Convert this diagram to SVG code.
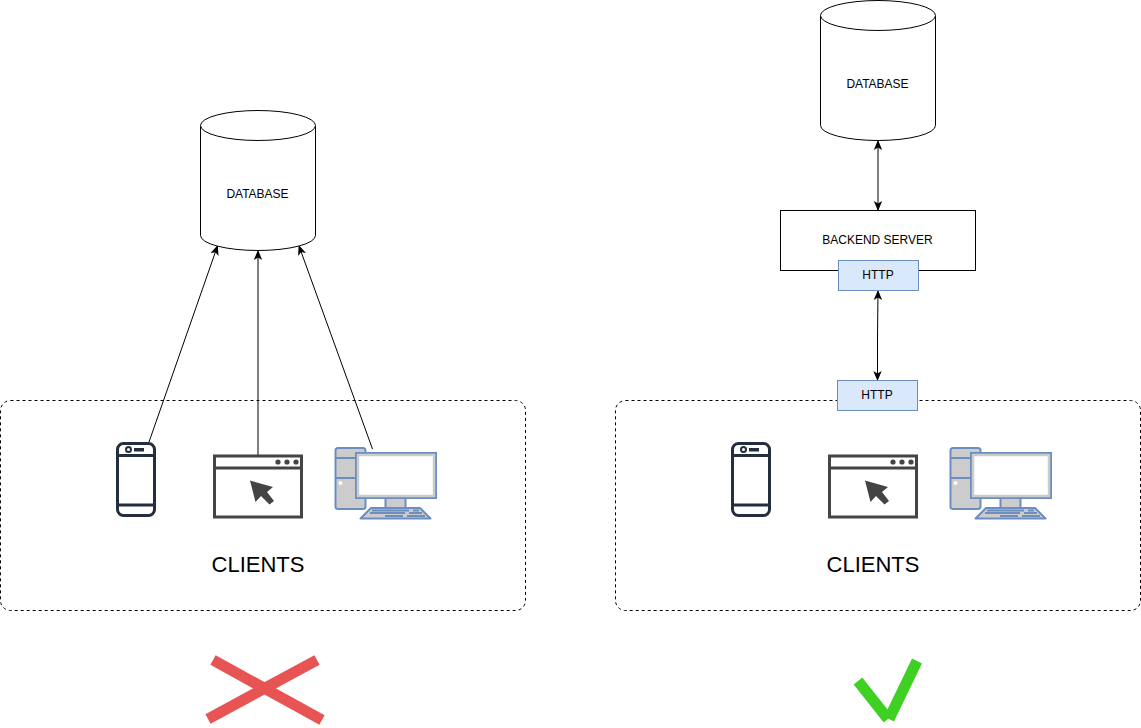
<svg xmlns="http://www.w3.org/2000/svg" width="1141" height="728" viewBox="0 0 1141 728">
<style>
text{font-family:"Liberation Sans",Arial,sans-serif;fill:#000;text-anchor:middle}
.s{font-size:12px}
.l{font-size:22px}
.box{fill:#fff;stroke:#000;stroke-width:1}
.http{fill:#dae8fc;stroke:#6c8ebf;stroke-width:1}
.group{fill:#fff;stroke:#000;stroke-width:1;stroke-dasharray:3 3}
.conn{fill:none;stroke:#000;stroke-width:1;marker-end:url(#a)}
.conn2{fill:none;stroke:#000;stroke-width:1;marker-start:url(#as);marker-end:url(#a)}
.pc{stroke:#6c8ebf;stroke-width:2;fill:#ccc;stroke-linejoin:round}
</style>
<defs>
<marker id="a" viewBox="0 0 10 10" refX="9" refY="5" markerWidth="10" markerHeight="10" orient="auto" markerUnits="userSpaceOnUse"><path d="M0 0.8L10 5L0 9.2L2.500 5Z" fill="#000"/></marker>
<marker id="as" viewBox="0 0 10 10" refX="1" refY="5" markerWidth="10" markerHeight="10" orient="auto" markerUnits="userSpaceOnUse"><path d="M10 0.8L0 5L10 9.2L7.500 5Z" fill="#000"/></marker>
<g id="phoneIcon">
<rect x="117.500" y="443.500" width="37" height="72" rx="6" fill="#fff" stroke="#232f3e" stroke-width="3"/>
<path d="M117.500 455.500H154.500M117.500 505H154.500" stroke="#232f3e" stroke-width="3" fill="none"/>
<circle cx="128.500" cy="449.500" r="2.500" fill="#fff" stroke="#232f3e" stroke-width="2"/>
<rect x="134" y="448" width="10" height="3.500" fill="#232f3e"/>
</g>
<g id="browserIcon">
<rect x="214.500" y="456" width="87" height="61" fill="#fff" stroke="#444" stroke-width="3"/>
<path d="M214.500 468H301.500" stroke="#444" stroke-width="3" fill="none"/>
<circle cx="278" cy="462" r="2.600" fill="#444"/><circle cx="287" cy="462" r="2.600" fill="#444"/><circle cx="296" cy="462" r="2.600" fill="#444"/>
<path d="M250 480.500L273 487L267 492L274 501L269.500 504.500L261 496L255.500 502Z" fill="#444"/>
</g>
<g id="pcIcon">
<rect x="335.500" y="448" width="30" height="61" rx="2.500" class="pc"/>
<path d="M335.500 458H365.500M335.500 478H365.500" class="pc" fill="none"/>
<circle cx="340.500" cy="483" r="2" fill="#fff"/>
<rect x="385.500" y="498" width="20" height="10" class="pc"/>
<rect x="356" y="453" width="80" height="45" fill="#fff" stroke="#6c8ebf" stroke-width="2"/>
<rect x="358" y="455" width="76" height="41" fill="#fff" stroke="#ccc" stroke-width="2.500"/>
<path d="M371 508H420L430.500 518.500H360.500Z" class="pc"/>
<path d="M372 510.500H409M413 510.500H419M370 513H405M409 513H422M385 516H403M407 516H425" stroke="#6c8ebf" stroke-width="1.800" fill="none"/>
</g>
</defs>
<rect width="1141" height="728" fill="#fff"/>
<g id="left-clients">
<rect class="group" x="0.500" y="400.500" width="525" height="210" rx="10"/>
<text class="l" x="258" y="572">CLIENTS</text>
</g>
<g id="right-clients">
<rect class="group" x="615.500" y="400.500" width="525" height="210" rx="10"/>
<text class="l" x="873" y="572">CLIENTS</text>
</g>
<g id="connectors">
<path class="conn" d="M149 442L217.500 246"/>
<path class="conn" d="M258 455V251"/>
<path class="conn" d="M372.500 449L299 246"/>
<path class="conn2" d="M878 141V210"/>
<path class="conn2" d="M878 291L877.500 336V380"/>
</g>
<g id="left-phone"><use href="#phoneIcon"/></g>
<g id="left-browser"><use href="#browserIcon"/></g>
<g id="left-pc"><use href="#pcIcon"/></g>
<g id="right-phone"><use href="#phoneIcon" x="615"/></g>
<g id="right-browser"><use href="#browserIcon" x="615"/></g>
<g id="right-pc"><use href="#pcIcon" x="615"/></g>
<g id="left-database">
<path class="box" d="M200.500 125.500A57.500 15 0 0 1 315.500 125.500V235.500A57.500 15 0 0 1 200.500 235.500Z"/>
<path class="box" fill="none" d="M200.500 125.500A57.500 15 0 0 0 315.500 125.500"/>
<text class="s" x="257.500" y="198">DATABASE</text>
</g>
<g id="right-database">
<path class="box" d="M820.500 15.500A57.500 15 0 0 1 935.500 15.500V125.500A57.500 15 0 0 1 820.500 125.500Z"/>
<path class="box" fill="none" d="M820.500 15.500A57.500 15 0 0 0 935.500 15.500"/>
<text class="s" x="877.500" y="88">DATABASE</text>
</g>
<g id="backend-server">
<rect class="box" x="780.500" y="210.500" width="195" height="60"/>
<text class="s" x="877.500" y="244">BACKEND SERVER</text>
</g>
<g id="http-server">
<rect class="http" x="838.500" y="260.500" width="80" height="30"/>
<text class="s" x="878" y="279">HTTP</text>
</g>
<g id="http-clients">
<rect class="http" x="837.500" y="380.500" width="80" height="30"/>
<text class="s" x="877" y="399">HTTP</text>
</g>
<g id="cross">
<path d="M213 660L322 720M317 660L208 719" stroke="#e85454" stroke-width="11" fill="none"/>
</g>
<g id="check">
<path d="M858 681L888 719M917 661L889 719" stroke="#3fd024" stroke-width="11" fill="none"/>
</g>
</svg>
